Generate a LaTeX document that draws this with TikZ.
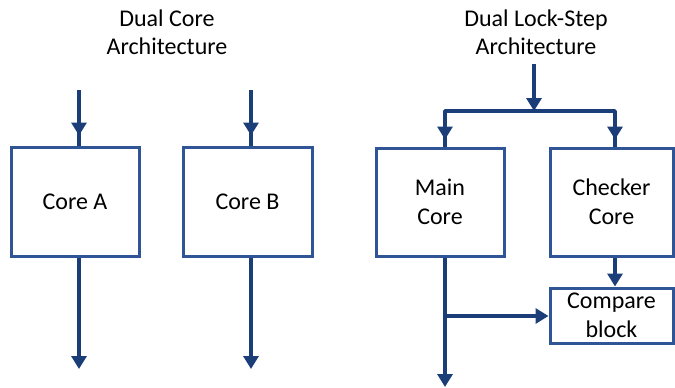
\documentclass[tikz,border=0pt]{standalone}
\usepackage{fontspec}
\setmainfont{Carlito}
\usetikzlibrary{arrows.meta}
\definecolor{boxblue}{RGB}{47,85,151}
\definecolor{arrblue}{RGB}{28,62,120}
\tikzset{
  corebox/.style={draw=boxblue, line width=3pt, fill=white, inner sep=0pt,
    align=center, font=\fontsize{24}{29}\selectfont},
  ttl/.style={align=center, font=\fontsize{24}{28}\selectfont, inner sep=0pt},
  ln/.style={draw=arrblue, line width=3.4pt},
  arr/.style={ln, -{Triangle[length=13pt,width=15pt]}},
}
\begin{document}
\begin{tikzpicture}[x=1pt,y=-1pt]
\useasboundingbox (0,0) rectangle (675,388);
% titles
\node[ttl] (t1) at (167,32) {Dual Core\\Architecture};
\node[ttl] (t2) at (536,32) {Dual Lock-Step\\Architecture};
% boxes
\node[corebox, minimum width=128pt, minimum height=109pt] (A) at (75,201.5) {Core A};
\node[corebox, minimum width=129pt, minimum height=109pt] (B) at (247.5,201.5) {Core B};
\node[corebox, minimum width=128pt, minimum height=108pt] (M) at (440,202) {Main\\Core};
\node[corebox, minimum width=123pt, minimum height=108pt] (C) at (611.5,202) {Checker\\Core};
\node[corebox, minimum width=123pt, minimum height=55pt] (P) at (611.5,315.5) {Compare\\block};
% dual core arrows
\coordinate (ain) at (79,90);
\coordinate (bin) at (251,90);
\draw[ln] (ain) -- (ain |- A.north);
\draw[arr] (ain) -- ([yshift=10pt]ain |- A.north);
\draw[ln] (bin) -- (bin |- B.north);
\draw[arr] (bin) -- ([yshift=10pt]bin |- B.north);
\coordinate (aout) at (79,369);
\coordinate (bout) at (251,369);
\draw[arr] (aout |- A.south) -- (aout);
\draw[arr] (bout |- B.south) -- (bout);
% lock-step input
\coordinate (lin) at (534,64);
\coordinate (split) at (534,111);
\coordinate (ml) at (445,111);
\coordinate (cl) at (615,111);
\draw[arr] (lin) -- (split);
\draw[ln, line join=round] (ml |- M.north) -- (ml) -- (cl) -- (cl |- C.north);
\draw[arr] (ml) -- ([yshift=7pt]ml |- M.north);
\draw[arr] (cl) -- ([yshift=7pt]cl |- C.north);
% lock-step outputs
\coordinate (mout) at (445,387);
\coordinate (br) at (445,316);
\draw[arr] (mout |- M.south) -- (mout);
\draw[arr] (br) -- (br -| P.west);
\draw[arr] (cl |- C.south) -- (cl |- P.north);
\end{tikzpicture}
\end{document}
